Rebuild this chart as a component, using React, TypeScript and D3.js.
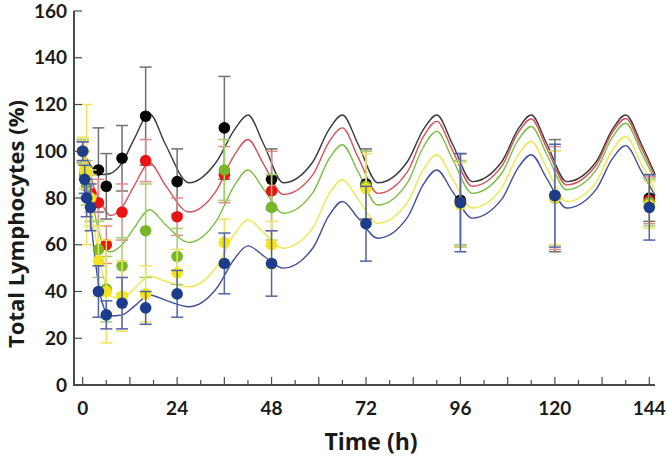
import React from "react";
import * as d3 from "d3";

// sampling times (h) and observed means / SD per dose group
const times = [0, 0.5, 1, 2, 4, 6, 10, 16, 24, 36, 48, 72, 96, 120, 144];

const blackMean = [100, null, null, null, 92, 85, 97, 115, 87, 110, 88, 86, 79, 81, 80];
const blackSd = [5, null, null, null, 18, 14, 14, 21, 14, 22, 13, 15, 20, 24, 10];
const redMean = [100, null, 90, 82, 78, 60, 74, 96, 72, 90, 83, 85, 78, 80, 79];
const redSd = [4, null, 6, 8, 10, 8, 12, 9, 8, 12, 17, 15, 18, 22, 10];
const greenMean = [100, 90, 85, 80, 58, 41, 51, 66, 55, 92, 76, 85, 78, 80, 78];
const greenSd = [5, 6, 8, 10, 12, 14, 12, 20, 12, 13, 14, 15, 18, 20, 10];
const yellowMean = [100, 92, 90, 80, 53, 40, 38, 39, 48, 61, 60, 84, 77, 80, 77];
const yellowSd = [6, 8, 30, 12, 15, 22, 15, 12, 10, 10, 10, 15, 18, 20, 10];
const blueMean = [100, 88, 80, 76, 40, 30, 35, 33, 39, 52, 52, 69, 78, 81, 76];
const blueSd = [4, 6, 8, 10, 11, 6, 11, 7, 10, 13, 14, 16, 21, 22, 14];

// model prediction
const fitTimes = [
  0, 1, 2, 3, 5, 7, 10, 13, 17, 21, 27, 34, 38.5, 42, 46, 51, 58.5, 62.5, 66, 70, 75, 82.5, 86.5, 90,
  94, 99, 106.5, 110.5, 114, 118, 123, 130.5, 134.5, 138, 142, 145.5,
];
const blackFit = [
  100, 97, 94, 92, 90, 90.5, 95, 105, 116, 103, 86.5, 95.5, 109, 115.5, 103, 86.5, 95.5, 109, 115.5, 103,
  86.5, 95.5, 109, 115.5, 103, 87, 95.5, 109, 115.5, 103, 87, 95.5, 109, 115.5, 103, 90,
];
const redFit = [
  100, 95, 89, 84, 77, 72.5, 76, 85, 95, 85.5, 74, 83.3, 98.2, 105, 94.4, 81.5, 90, 103.7, 110, 97.4, 82,
  91.2, 106, 112.8, 100.3, 85, 93.6, 107.5, 113.8, 101.1, 85.6, 94.1, 107.8, 114, 101.4, 89,
];
const greenFit = [
  100, 92, 83, 74, 61, 57, 60, 67, 75, 68.7, 61, 70.3, 85.2, 92, 83.7, 73.5, 82.3, 96.4, 102.8, 91.2, 77,
  86.5, 101.6, 108.5, 96.6, 82, 90.6, 104.3, 110.6, 98.4, 83.5, 92, 105.7, 112, 99.4, 87.5,
];
const yellowFit = [
  100, 90, 78, 66, 48, 38, 37, 41, 46.5, 44.4, 42, 50.6, 64.4, 70.7, 65.2, 58.5, 67.3, 81.4, 87.8, 79.4,
  69.2, 78, 92, 98.5, 88.2, 75.7, 84.3, 97.9, 104.2, 92.6, 78.5, 86.8, 100.2, 106.3, 94.5, 83,
];
const blueFit = [
  100, 88, 72, 56, 35, 29.5, 30, 33.5, 38.5, 36.3, 33.5, 41.3, 53.8, 59.5, 55.2, 50, 58.6, 72.2, 78.5, 71.4,
  62.8, 71.6, 85.6, 92, 82.7, 71.4, 79.5, 92.5, 98.5, 88.2, 75.7, 83.7, 96.5, 102.4, 91.4, 81,
];

const yTicks = [0, 20, 40, 60, 80, 100, 120, 140, 160];
const xLabels = [0, 24, 48, 72, 96, 120, 144];

const series = [
  { mean: blackMean, sd: blackSd, fit: blackFit, dot: "#050505", bar: "#707070", line: "#3a3a3a" },
  { mean: redMean, sd: redSd, fit: redFit, dot: "#e81414", bar: "#e08a8a", line: "#d8505a" },
  { mean: greenMean, sd: greenSd, fit: greenFit, dot: "#76b82a", bar: "#a2d06a", line: "#7cbf40" },
  { mean: yellowMean, sd: yellowSd, fit: yellowFit, dot: "#f4e41c", bar: "#f0e260", line: "#f0e64a" },
  { mean: blueMean, sd: blueSd, fit: blueFit, dot: "#1b3d8c", bar: "#5264a6", line: "#3f4f9c" },
];

const W = 666;
const H = 456;

export default function App() {
  const x = d3.scaleLinear().domain([0, 144]).range([82.7, 649.3]);
  const y = d3.scaleLinear().domain([0, 160]).range([385, 11]);
  const axisColor = "#4a4a4a";
  const tickFont = "Lato, 'Open Sans', sans-serif";
  const titleFont = "'Open Sans', Lato, sans-serif";

  const line = (vals: number[]) =>
    d3
      .line<number>()
      .x((_, i) => x(fitTimes[i]))
      .y((d) => y(d))
      .curve(d3.curveMonotoneX)(vals) || "";

  const xTicks = d3.range(0, 145, 6);

  return (
    <svg width={W} height={H} style={{ position: "absolute", left: 0, top: 0 }}>
      <rect width={W} height={H} fill="#fff" />

      {/* model curves */}
      {series.map((s, k) => (
        <path key={"c" + k} d={line(s.fit)} fill="none" stroke={s.line} strokeWidth={1.4} />
      ))}

      {/* observations */}
      {series.map((s, k) => (
        <g key={"s" + k}>
          {times.map((t, i) => {
            const m = s.mean[i];
            const sd = s.sd[i];
            if (m == null || sd == null) return null;
            const cx = x(t);
            return (
              <g key={i} stroke={s.bar} strokeWidth={1.5}>
                <line x1={cx} x2={cx} y1={y(m - sd)} y2={y(m + sd)} />
                <line x1={cx - 6} x2={cx + 6} y1={y(m + sd)} y2={y(m + sd)} />
                <line x1={cx - 6} x2={cx + 6} y1={y(m - sd)} y2={y(m - sd)} />
              </g>
            );
          })}
          {times.map((t, i) =>
            s.mean[i] == null ? null : (
              <circle key={"p" + i} cx={x(t)} cy={y(s.mean[i] as number)} r={5.8} fill={s.dot} />
            )
          )}
        </g>
      ))}

      {/* y axis */}
      <line x1={74} x2={74} y1={y(160)} y2={386} stroke={axisColor} strokeWidth={2} />
      {yTicks.map((v) => (
        <g key={"y" + v}>
          <line x1={74} x2={82} y1={y(v)} y2={y(v)} stroke={axisColor} strokeWidth={1.2} />
          <text
            x={67}
            y={y(v)}
            dy="0.35em"
            textAnchor="end"
            fontFamily={tickFont}
            fontWeight={700}
            fontSize={19}
            fill="#1a1a1a"
          >
            {v}
          </text>
        </g>
      ))}

      {/* x axis */}
      <line x1={73} x2={655} y1={385} y2={385} stroke={axisColor} strokeWidth={2} />
      {xTicks.map((t) => (
        <line
          key={"xt" + t}
          x1={x(t)}
          x2={x(t)}
          y1={385}
          y2={t % 12 === 0 ? 377 : 380}
          stroke={axisColor}
          strokeWidth={1.2}
        />
      ))}
      {xLabels.map((t) => (
        <text
          key={"xl" + t}
          x={x(t)}
          y={415}
          textAnchor="middle"
          fontFamily={tickFont}
          fontWeight={700}
          fontSize={19}
          fill="#1a1a1a"
        >
          {t}
        </text>
      ))}

      <text
        x={371}
        y={450}
        textAnchor="middle"
        fontFamily={titleFont}
        fontWeight={700}
        fontSize={23}
        fill="#1a1a1a"
      >
        Time (h)
      </text>
      <text
        transform={`translate(24,${224}) rotate(-90)`}
        textAnchor="middle"
        fontFamily={titleFont}
        fontWeight={700}
        fontSize={22}
        fill="#1a1a1a"
      >
        Total Lymphocytes (%)
      </text>
    </svg>
  );
}
